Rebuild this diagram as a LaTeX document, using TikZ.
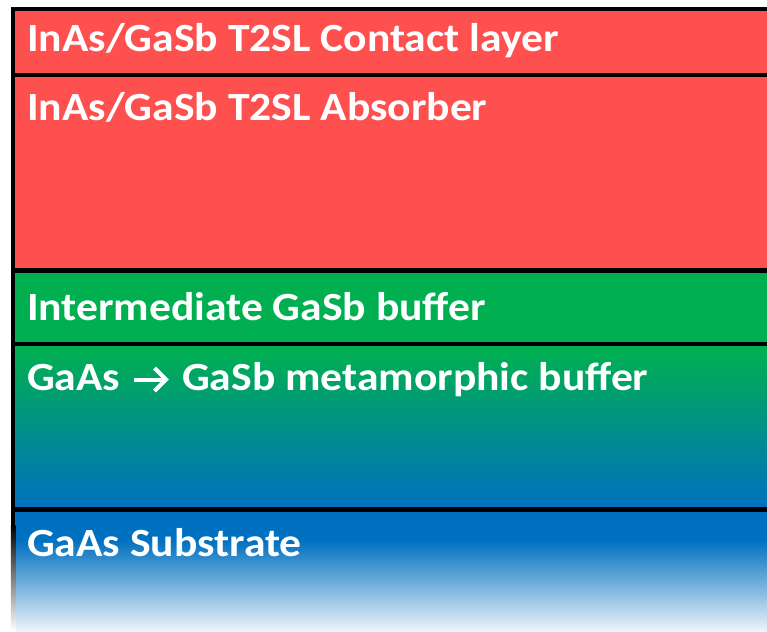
\documentclass[tikz,border=0pt]{standalone}
\usepackage{fontspec}
\usetikzlibrary{calc}
\setmainfont[FakeStretch=1.09]{Carlito}
\definecolor{layred}{RGB}{255,80,80}
\definecolor{laygreen}{RGB}{0,176,80}
\definecolor{layblue}{RGB}{0,112,192}
\definecolor{laywhite}{RGB}{238,243,250}
\begin{document}
\begin{tikzpicture}[x=1pt,y=-1pt,
  lay/.style={anchor=base west,text=white,font=\fontsize{40}{40}\selectfont\bfseries,inner sep=0pt},
  sep/.style={line width=4.5pt,black},
  glyph/.style={white,line width=4pt}]
\useasboundingbox (0,0) rectangle (767,631);
% fills
\fill[layred] (13,9) rectangle (767,270.5);
\fill[laygreen] (13,270.5) rectangle (767,344);
\shade[top color=laygreen,bottom color=layblue] (13,348) rectangle (767,509.5);
\fill[laygreen] (13,344) rectangle (767,348.5);
\fill[layblue] (13,509.5) rectangle (767,540);
\shade[top color=layblue,bottom color=laywhite] (13,540) rectangle (767,631);
% separators
\draw[sep] (11,9) -- (767,9);
\draw[sep] (13,75) -- (767,75);
\draw[sep] (13,270.5) -- (767,270.5);
\draw[sep] (13,344) -- (767,344);
\draw[sep] (13,509.5) -- (767,509.5);
\draw[sep] (13,9) -- (13,525);
\shade[top color=black,bottom color=white] (10.75,525) rectangle (15.25,631);
% labels
\node[lay] (contact) at (27,52) {InAs/GaSb T2SL Contact layer};
\node[lay] (absorber) at (27,121) {InAs/GaSb T2SL Absorber};
\node[lay] (inter) at (27,320) {Intermediate GaSb buffer};
\node[lay] (meta) at (27,390) {GaAs};
\node[lay] (meta2) at (182,390) {GaSb metamorphic buffer};
\node[lay] (subst) at (27,556) {GaAs Substrate};
\coordinate (arrS) at (134,379.5);
\coordinate (arrE) at (166,379.5);
\draw[glyph] (arrS) -- (arrE);
\draw[glyph,line join=miter] ($(arrE)+(-11.5,-11.5)$) -- (arrE) -- ($(arrE)+(-11.5,11.5)$);
\end{tikzpicture}
\end{document}
